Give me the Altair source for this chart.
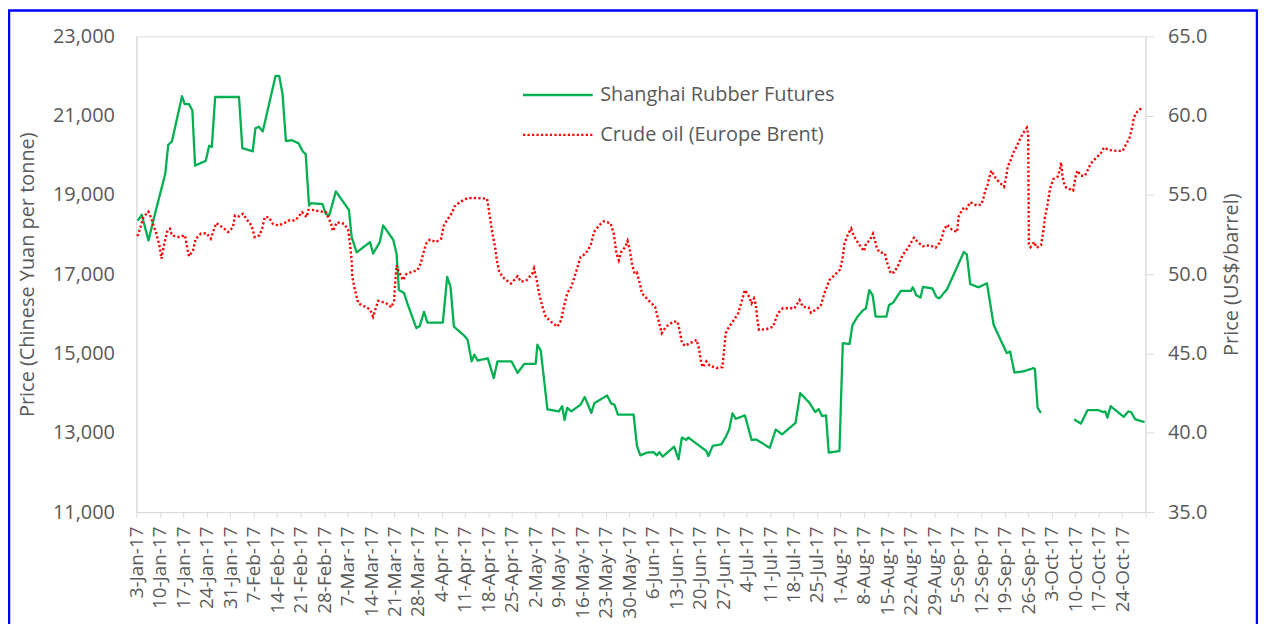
import altair as alt
import pandas as pd

# ---- data (day offset from 3-Jan-2017, value) ----
rubber_days = [0.4, 1.6, 3.6, 5.3, 8.6, 9.5, 10.6, 13.6, 14.4, 15.7, 16.7, 17.5, 20.7, 21.7, 22.5,
               23.5, 30.6, 31.6, 34.7, 35.5, 36.5, 37.7, 41.5, 42.6, 43.6, 44.6, 46.4, 48.4, 49.6,
               50.5, 51.5, 52.1, 55.5, 56.5, 57.5, 59.5, 63.4, 64.2, 65.7, 69.7, 70.6, 72.6, 73.6,
               76.6, 77.6, 78.3, 79.8, 81.0, 83.5, 84.5, 85.8, 86.8, 91.4, 92.7, 93.7, 94.7, 97.9,
               98.8, 100.0, 100.8, 101.8, 104.8, 106.6, 107.7, 111.9, 113.7, 115.7, 119.1, 119.6,
               120.6, 122.6, 126.0, 127.0, 127.7, 128.5, 129.7, 132.5, 133.7, 134.5, 135.7, 136.6,
               140.4, 141.6, 142.6, 143.6, 148.3, 149.3, 150.3, 152.3, 154.3, 155.2, 156.0, 157.0,
               160.4, 161.7, 162.7, 164.0, 164.6, 170.0, 170.6, 171.9, 174.5, 175.8, 176.8, 177.8,
               178.8, 181.5, 183.5, 184.9, 188.9, 190.7, 192.6, 196.6, 198.0, 200.7, 202.5, 203.5,
               204.5, 205.7, 206.5, 209.7, 210.7, 212.7, 213.6, 215.1, 216.6, 217.6, 218.6, 219.6,
               220.5, 223.7, 224.5, 225.7, 228.0, 231.0, 231.6, 232.6, 233.9, 234.6, 237.4, 238.6,
               239.5, 241.8, 246.8, 247.7, 248.7, 251.2, 253.7, 255.7, 259.6, 260.6, 261.9, 264.6,
               267.6, 268.0, 268.8, 269.8,
               279.7, 281.7, 283.7, 287.0, 288.3, 289.0, 289.6, 290.6, 294.5, 295.9, 296.7, 297.9,
               300.7]
rubber_vals = [18350, 18500, 17850, 18440, 19530, 20260, 20350, 21490, 21290, 21290, 21130, 19740,
               19860, 20240, 20210, 21470, 21470, 20180, 20100, 20680, 20720, 20600, 22000, 22000,
               21540, 20360, 20380, 20300, 20100, 20030, 18730, 18790, 18770, 18520, 18480, 19090,
               18620, 17940, 17550, 17810, 17520, 17810, 18230, 17870, 17520, 16600, 16530, 16220,
               15640, 15690, 16050, 15780, 15780, 16930, 16680, 15680, 15440, 15340, 14800, 14970,
               14820, 14880, 14380, 14800, 14800, 14510, 14740, 14740, 15220, 15080, 13590, 13540,
               13670, 13320, 13630, 13540, 13710, 13900, 13750, 13500, 13750, 13940, 13740, 13710,
               13460, 13460, 12670, 12430, 12500, 12510, 12430, 12510, 12400, 12650, 12330, 12880,
               12820, 12880, 12540, 12410, 12670, 12710, 12900, 13080, 13490, 13350, 13440, 12820,
               12830, 12620, 13080, 12960, 13250, 14000, 13760, 13520, 13600, 13420, 13440, 12500,
               12540, 15260, 15240, 15720, 15930, 16080, 16140, 16600, 16470, 15930, 15930, 16220,
               16280, 16580, 16580, 16670, 16470, 16410, 16680, 16640, 16430, 16390, 16620, 17560,
               17500, 16750, 16670, 16770, 15720, 15010, 15050, 14520, 14550, 14630, 14610, 13630,
               13500,
               13340, 13230, 13570, 13570, 13520, 13540, 13380, 13670, 13400, 13540, 13520, 13340,
               13270]
rubber_gap_after = 275  # holiday break (no trading) in early October

oil_days = [0.3, 1.0, 2.1, 3.6, 4.3, 5.0, 5.8, 6.8, 7.5, 8.3, 9.3, 10.0, 10.6, 12.6, 14.5, 15.2,
            15.7, 16.9, 17.7, 19.2, 20.9, 22.2, 23.2, 23.8, 25.6, 27.4, 28.8, 29.4, 30.6, 31.8,
            33.0, 34.3, 35.3, 36.7, 37.5, 38.3, 39.5, 40.7, 42.2, 43.9, 45.4, 47.4, 48.4, 49.4,
            50.8, 51.3, 52.5, 54.5, 56.5, 58.1, 58.6, 59.8, 62.0, 63.2, 63.7, 64.2, 64.4, 65.2,
            66.2, 68.2, 69.7, 70.6, 72.1, 74.3, 76.1, 76.9, 77.1, 77.6, 78.1, 79.5, 80.5, 82.2,
            83.8, 84.8, 85.8, 86.5, 87.5, 89.4, 90.9, 91.7, 92.9, 94.1, 94.9, 96.4, 98.3, 99.8,
            102.8, 104.6, 105.0, 105.6, 106.3, 107.0, 107.5, 108.2, 109.7, 111.7, 113.7, 114.7,
            116.4, 118.1, 118.6, 119.4, 120.1, 121.1, 122.1, 123.6, 125.6, 126.7, 127.5, 128.5,
            129.7, 131.0, 132.5, 134.0, 135.5, 136.5, 138.0, 139.4, 141.4, 142.4, 143.2, 143.9,
            144.6, 145.8, 146.5, 147.3, 147.8, 148.6, 149.3, 150.3, 150.8, 153.2, 154.7, 155.7,
            156.7, 158.0, 160.2, 161.4, 162.0, 162.7, 163.6, 165.1, 167.1, 167.9, 168.3, 168.9,
            170.0, 171.0, 173.0, 174.8, 175.2, 175.8, 176.8, 178.2, 179.5, 180.5, 181.5, 182.5,
            183.5, 184.2, 184.8, 185.1, 185.7, 187.9, 189.9, 191.3, 192.8, 194.8, 196.3, 197.8,
            198.8, 200.5, 201.2, 203.2, 204.2, 205.2, 206.7, 208.5, 209.9, 210.7, 211.2, 212.2,
            213.2, 213.9, 215.1, 216.1, 217.1, 217.6, 218.7, 219.7, 220.3, 220.7, 221.5, 223.3,
            223.7, 224.5, 225.0, 226.0, 227.0, 228.5, 230.0, 231.9, 233.4, 234.6, 236.6, 238.4,
            239.5, 240.3, 240.8, 241.8, 243.3, 244.8, 245.0, 245.2, 246.1, 246.9, 247.6, 248.7,
            250.7, 252.0, 252.7, 253.2, 253.9, 254.4, 255.0, 256.0, 257.4, 258.8, 259.3, 259.9,
            260.9, 261.6, 262.5, 263.3, 264.3, 265.6, 266.0, 266.2, 266.7, 267.8, 268.5, 269.8,
            270.5, 271.0, 271.8, 272.5, 273.5, 274.8, 275.5, 275.8, 276.2, 276.7, 277.4, 279.4,
            280.1, 280.7, 281.7, 282.9, 283.9, 284.7, 286.1, 287.6, 288.6, 290.0, 292.3, 294.2,
            295.2, 296.2, 296.7, 297.2, 297.5, 298.5, 300.2]
oil_vals = [52.4, 52.8, 53.6, 53.95, 53.6, 53.14, 52.66, 51.88, 50.98, 51.93, 52.76, 52.87, 52.45,
            52.34, 52.45, 51.6, 51.13, 51.51, 52.24, 52.55, 52.59, 52.24, 52.87, 53.22, 52.97,
            52.66, 52.97, 53.7, 53.64, 53.81, 53.43, 53.08, 52.34, 52.45, 52.87, 53.6, 53.6, 53.18,
            53.08, 53.18, 53.39, 53.39, 53.64, 53.91, 53.6, 54.06, 54.06, 53.97, 53.91, 53.18,
            52.72, 53.28, 53.18, 52.76, 51.93, 50.88, 49.83, 49.0, 48.16, 47.95, 47.78, 47.32,
            48.32, 48.2, 47.91, 48.37, 49.2, 50.56, 50.25, 49.62, 50.0, 50.14, 50.25, 50.67, 51.5,
            51.96, 52.18, 52.03, 52.24, 53.08, 53.49, 53.85, 54.27, 54.54, 54.75, 54.81, 54.79,
            54.75, 54.22, 53.39, 52.45, 51.71, 50.88, 50.14, 49.73, 49.41, 49.87, 49.52, 49.62,
            50.04, 50.36, 49.62, 48.79, 47.95, 47.32, 47.01, 46.69, 47.11, 47.95, 48.79, 49.2,
            50.04, 51.09, 51.3, 51.82, 52.66, 53.08, 53.33, 53.22, 52.55, 51.3, 50.88, 51.4, 51.71,
            52.09, 51.4, 50.67, 50.04, 50.1, 49.3, 48.79, 48.26, 47.95, 47.11, 46.28, 46.69, 47.01,
            47.01, 46.49, 45.69, 45.48, 45.65, 45.86, 45.23, 44.6, 44.14, 44.5, 44.23, 44.08,
            44.14, 45.02, 46.28, 46.69, 47.11, 47.53, 48.26, 49.0, 48.68, 48.16, 48.47, 48.05,
            47.32, 46.49, 46.53, 46.69, 47.53, 47.85, 47.85, 47.85, 48.37, 47.95, 47.9, 47.57,
            47.85, 48.05, 48.79, 49.62, 50.0, 50.29, 51.09, 51.93, 52.51, 52.87, 52.45, 52.03,
            51.71, 51.46, 51.93, 52.13, 52.55, 52.13, 51.76, 51.4, 51.3, 50.88, 50.36, 50.04,
            50.14, 50.46, 51.19, 51.61, 52.3, 51.96, 51.76, 51.82, 51.67, 51.96, 52.34, 52.76,
            53.12, 52.8, 52.66, 53.08, 53.6, 53.97, 54.22, 54.12, 54.54, 54.33, 54.39, 54.85,
            55.27, 55.65, 56.11, 56.53, 56.15, 55.79, 55.52, 56.0, 56.78, 57.26, 57.68, 58.03,
            58.41, 58.83, 59.24, 58.83, 51.9, 51.71, 52.03, 51.67, 51.82, 52.66, 53.6, 54.43,
            55.38, 56.0, 56.15, 56.63, 57.05, 56.21, 55.73, 55.44, 55.27, 56.11, 56.53, 56.21,
            56.21, 56.63, 56.99, 57.3, 57.61, 57.99, 57.83, 57.78, 57.78, 58.2, 58.58, 58.99,
            59.46, 59.87, 60.25, 60.54]

series_names = ["Shanghai Rubber Futures", "Crude oil (Europe Brent)"]
series_colors = ["#00B050", "#FF0000"]
left_ticks = [11000, 13000, 15000, 17000, 19000, 21000, 23000]
right_ticks = [35, 40, 45, 50, 55, 60, 65]

start = pd.Timestamp("2017-01-03")
end = pd.Timestamp("2017-10-31")

rubber_df = pd.DataFrame({
    "date": start + pd.to_timedelta(rubber_days, unit="D"),
    "value": rubber_vals,
    "series": series_names[0],
    "seg": [0 if d < rubber_gap_after else 1 for d in rubber_days],
})
oil_df = pd.DataFrame({
    "date": start + pd.to_timedelta(oil_days, unit="D"),
    "value": oil_vals,
    "series": series_names[1],
})

tick_dates = [alt.DateTime(year=t.year, month=t.month, date=t.day)
              for t in pd.date_range(start, end, freq="7D")]

GREY = "#595959"
AXIS_LINE = "#D9D9D9"
FONT = "Open Sans"

x_enc = alt.X(
    "date:T",
    scale=alt.Scale(domain=[alt.DateTime(year=2017, month=1, date=3),
                            alt.DateTime(year=2017, month=10, date=31)]),
    axis=alt.Axis(values=tick_dates, format="%-d-%b-%y", labelAngle=270,
                  labelExpr="(month(datum.value) == 9 && date(datum.value) == 31) ? '' : datum.label",
                  labelFontSize=19, labelColor=GREY, labelFont=FONT, labelPadding=9,
                  labelFlush=False, labelOverlap=False, labelBound=False,
                  tickSize=5, tickColor=AXIS_LINE, domainColor=AXIS_LINE,
                  grid=False, title=None),
)

legend = alt.Legend(title=None, orient="none", legendX=387, legendY=49,
                    symbolType="stroke", symbolSize=4900, symbolStrokeWidth=2.5,
                    clipHeight=20, rowPadding=20, labelFontSize=20, labelColor=GREY,
                    labelFont=FONT, labelOffset=6, labelLimit=500, padding=0)

color_enc = alt.Color("series:N", scale=alt.Scale(domain=series_names, range=series_colors),
                      legend=legend)
dash_enc = alt.StrokeDash("series:N",
                          scale=alt.Scale(domain=series_names, range=[[1, 0], [2.2, 2.3]]),
                          legend=legend)

y_left = alt.Y(
    "value:Q",
    scale=alt.Scale(domain=[11000, 23000], nice=False, zero=False),
    axis=alt.Axis(orient="left", values=left_ticks, format=",.0f",
                  title="Price (Chinese Yuan per tonne)", titleFontSize=20, titleColor=GREY,
                  titleFont=FONT, titleFontWeight="normal", titlePadding=15,
                  labelFontSize=20, labelColor=GREY, labelFont=FONT, labelPadding=22,
                  ticks=False, domainColor=AXIS_LINE, grid=False),
)
y_right = alt.Y(
    "value:Q",
    scale=alt.Scale(domain=[35, 65], nice=False, zero=False),
    axis=alt.Axis(orient="right", values=right_ticks, format=".1f",
                  title="Price (US$/barrel)", titleFontSize=20, titleColor=GREY,
                  titleFont=FONT, titleFontWeight="normal", titlePadding=15,
                  titleAngle=270, titleBaseline="top",
                  labelFontSize=20, labelColor=GREY, labelFont=FONT, labelPadding=14,
                  tickSize=8, tickColor=AXIS_LINE, domainColor=AXIS_LINE, grid=False),
)

rubber_layer = alt.Chart(rubber_df).mark_line(strokeWidth=2.3, strokeJoin="round").encode(
    x=x_enc, y=y_left, color=color_enc, strokeDash=dash_enc, detail="seg:N"
)
oil_layer = alt.Chart(oil_df).mark_line(strokeWidth=2.4, strokeCap="butt").encode(
    x=x_enc, y=y_right, color=color_enc, strokeDash=dash_enc
)
border = alt.Chart(alt.Data(values=[{"b": 1}])).mark_rect(
    filled=False, stroke="#0000FF", strokeWidth=2.5
).encode(x=alt.value(-128), x2=alt.value(1126), y=alt.value(-26), y2=alt.value(700))

chart = (
    alt.layer(rubber_layer, oil_layer, border)
    .resolve_scale(y="independent")
    .properties(width=1014, height=478,
                autosize=alt.AutoSizeParams(type="none"),
                padding={"left": 129, "top": 27, "right": 113, "bottom": 111},
                background="white")
    .configure_view(stroke=None)
    .configure(font=FONT)
)

chart.save("out.html", embed_options={"renderer": "svg", "actions": False})
